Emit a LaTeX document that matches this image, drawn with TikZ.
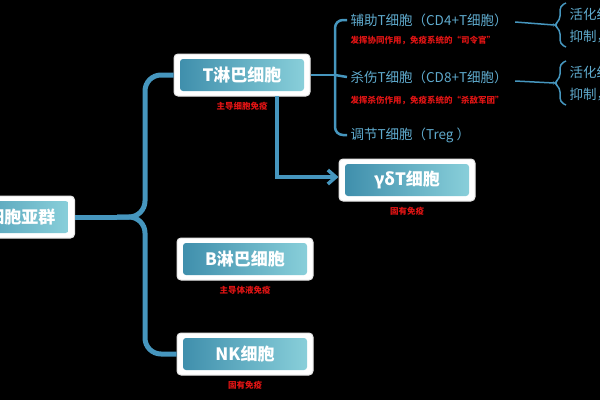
\documentclass[tikz,border=0pt]{standalone}
\usepackage{fontspec}
\setmainfont{Noto Sans CJK SC}
\newfontfamily\cjk{Noto Sans CJK SC}
\usetikzlibrary{positioning,calc,arrows.meta}
\definecolor{linkblue}{RGB}{70,150,190}
\definecolor{cellteal}{RGB}{60,140,170}
\definecolor{cellcyan}{RGB}{140,210,220}
\definecolor{notered}{RGB}{225,20,20}
\definecolor{subblue}{RGB}{95,170,205}

\tikzset{
    cellbox/.style={draw=white!80!gray, fill=white, rounded corners=4pt,
        minimum width=136pt, minimum height=42pt, line width=1pt,
        font=\cjk\bfseries\fontsize{17}{17}\selectfont, text=white,
        path picture={\shade[left color=cellteal, right color=cellcyan, rounded corners=3pt]
            ($(path picture bounding box.south west)+(6pt,5pt)$) rectangle
            ($(path picture bounding box.north east)+(-6pt,-5pt)$);}},
    note/.style={text=notered, font=\cjk\bfseries\fontsize{8.5}{9}\selectfont},
    subcell/.style={text=subblue, font=\cjk\fontsize{13.5}{14}\selectfont, anchor=west},
    link/.style={draw=linkblue, line width=5pt, rounded corners=16pt},
    thin link/.style={draw=linkblue, line width=2.5pt, rounded corners=8pt}
}

\begin{document}
\begin{tikzpicture}[x=1pt, y=-1pt, >=stealth]
\fill[black] (0,0) rectangle (600,400);
\useasboundingbox (0,0) rectangle (600,400);
\begin{scope}
\clip (0,0) rectangle (600,400);

% cell boxes
\node [cellbox, minimum width=140pt, anchor=east] (root) at (75, 217) {淋巴细胞亚群};
\node [cellbox] (tcell) at (242, 75) {T淋巴细胞};
\node [cellbox] (gdt) at (407, 180) {γδT细胞};
\node [cellbox] (bcell) at (245, 259) {B淋巴细胞};
\node [cellbox] (nkcell) at (245, 354) {NK细胞};

% notes under boxes
\node [note, below=2pt of tcell] (tnote) {主导细胞免疫};
\node [note, below=2pt of gdt] (gdtnote) {固有免疫};
\node [note, below=2pt of bcell] (bnote) {主导体液免疫};
\node [note, below=2pt of nkcell] (nknote) {固有免疫};

% T cell subsets
\node [subcell] (helper) at (347, 20) {辅助T细胞（CD4+T细胞）};
\node [note, anchor=west] (helpnote) at (347, 40) {发挥协同作用，免疫系统的“司令官”};
\node [subcell] (killer) at (347, 77) {杀伤T细胞（CD8+T细胞）};
\node [note, anchor=west] (killnote) at (347, 100) {发挥杀伤作用，免疫系统的“杀敌军团”};
\node [subcell] (treg) at (347, 135) {调节T细胞（Treg ）};

% far right, cut off at the edge
\node [subcell] (act1) at (566, 14) {活化细胞};
\node [subcell] (sup1) at (566, 37) {抑制，};
\node [subcell] (act2) at (566, 72) {活化细胞};
\node [subcell] (sup2) at (566, 95) {抑制，};
\coordinate (hend) at (554, 25);
\coordinate (kend) at (554, 83);
\draw [thin link, line width=1.5pt, rounded corners=4pt] (566, 3) -- (560, 6) -- (560, 20) -- (hend) -- (560, 30) -- (560, 44) -- (566, 47);
\draw [thin link, line width=1.5pt, rounded corners=4pt] (566, 61) -- (560, 64) -- (560, 78) -- (kend) -- (560, 88) -- (560, 102) -- (566, 105);
\draw [thin link, line width=1.5pt] ($(helper.east)+(4,2)$) -- (hend);
\draw [thin link, line width=1.5pt] ($(killer.east)+(4,4)$) -- (kend);

% root brace
\coordinate (rb) at (117, 217);
\draw [link] (root.east) -- (rb);
\draw [link] (rb) -- (145, 217) -- (145, 75) -- (tcell.west);
\draw [link] (rb) -- (145, 217) -- (145, 354) -- (nkcell.west);

% T cell brace
\draw [thin link] (tcell.east) -- (335, 75);
\draw [thin link] (335, 75) -- (335, 20) -- (helper.west);
\draw [thin link] (335, 75) -- (killer.west);
\draw [thin link] (335, 75) -- (335, 135) -- (treg.west);

% arrow to gamma-delta
\draw [link, rounded corners=0pt, -{Straight Barb[length=8pt, width=14pt]}, line width=3.5pt] (277, 96) -- (277, 177) -- (gdt.west |- 0, 177);
\end{scope}
\end{tikzpicture}
\end{document}
